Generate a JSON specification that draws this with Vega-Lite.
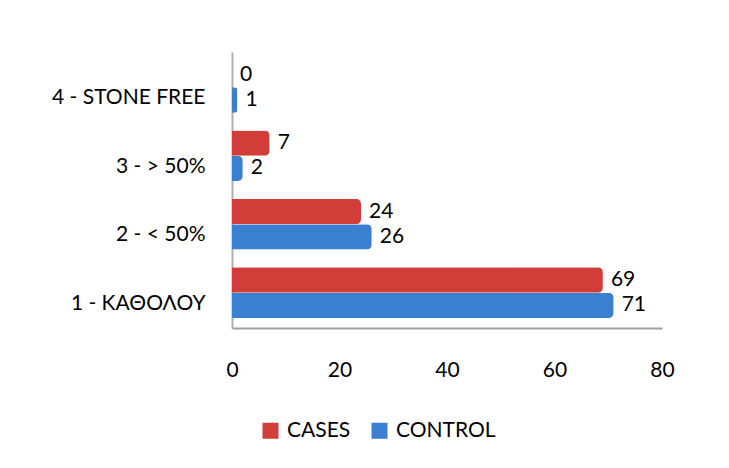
{
  "$schema": "https://vega.github.io/schema/vega-lite/v6.json",
  "width": 430,
  "height": 276,
  "autosize": {"type": "none"},
  "padding": {"left": 232, "top": 52, "right": 67, "bottom": 140},
  "background": "white",
  "data": {"values": [
    {"category": "1 - ΚΑΘΟΛΟΥ", "group": "CASES", "value": 69},
    {"category": "1 - ΚΑΘΟΛΟΥ", "group": "CONTROL", "value": 71},
    {"category": "2 - < 50%", "group": "CASES", "value": 24},
    {"category": "2 - < 50%", "group": "CONTROL", "value": 26},
    {"category": "3 - > 50%", "group": "CASES", "value": 7},
    {"category": "3 - > 50%", "group": "CONTROL", "value": 2},
    {"category": "4 - STONE FREE", "group": "CASES", "value": 0},
    {"category": "4 - STONE FREE", "group": "CONTROL", "value": 1}
  ]},
  "encoding": {
    "y": {
      "field": "category", "type": "nominal",
      "sort": ["4 - STONE FREE", "3 - > 50%", "2 - < 50%", "1 - ΚΑΘΟΛΟΥ"],
      "scale": {"paddingInner": 0.26, "paddingOuter": 0.146},
      "axis": {"title": null, "ticks": false, "labelPadding": 27, "labelOffset": 11, "labelFontSize": 21, "labelFont": "Lato", "labelColor": "#000", "domainColor": "#b0b0b0", "domainWidth": 2}
    },
    "yOffset": {"field": "group", "type": "nominal", "sort": ["CASES", "CONTROL"]},
    "x": {
      "field": "value", "type": "quantitative",
      "scale": {"domain": [0, 80], "nice": false},
      "axis": {"title": null, "values": [0, 20, 40, 60, 80], "grid": false, "ticks": false, "labelPadding": 31, "labelFontSize": 21, "labelFont": "Lato", "labelColor": "#000", "domainColor": "#a0a0a0", "domainWidth": 2, "labelFlush": false}
    }
  },
  "layer": [
    {
      "mark": {"type": "bar", "cornerRadiusEnd": 5, "stroke": null},
      "encoding": {
        "color": {
          "field": "group", "type": "nominal",
          "scale": {"domain": ["CASES", "CONTROL"], "range": ["#d13d39", "#3b7fd0"]},
          "legend": {"title": null, "orient": "none", "legendX": 28, "legendY": 368, "direction": "horizontal", "symbolType": "square", "symbolSize": 256, "labelFontSize": 21, "labelFont": "Lato", "labelColor": "#000", "columnPadding": 18, "labelOffset": 6, "symbolOffset": 0}
        }
      }
    },
    {
      "mark": {"type": "text", "align": "left", "baseline": "middle", "dx": 8, "fontSize": 21, "font": "Lato", "color": "#000"},
      "encoding": {
        "text": {"field": "value", "type": "quantitative"}
      }
    }
  ],
  "config": {"view": {"stroke": null}}
}
